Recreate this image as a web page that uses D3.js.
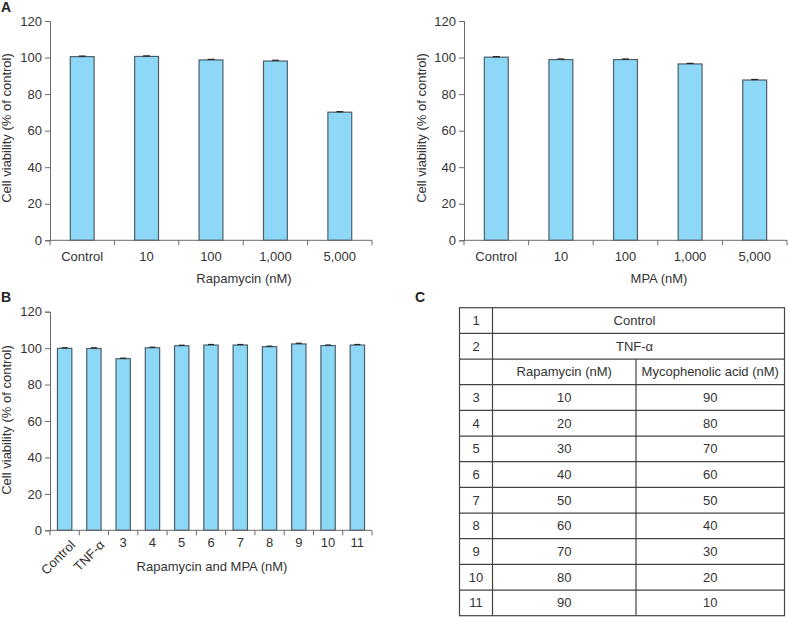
<!DOCTYPE html>
<html><head><meta charset="utf-8">
<script src="https://cdn.jsdelivr.net/npm/d3@7"></script>
<style>
body{margin:0;background:#fff;}
svg{display:block;font-family:"Liberation Sans",Arial,sans-serif;}
</style></head>
<body><svg id="c" width="788" height="617"></svg>
<script>
// ---- data ----
const catsA = ["Control","10","100","1,000","5,000"];
const rapaValues = [100.5, 100.6, 98.7, 98.1, 70.1];
const rapaErrors = [0.3, 0.3, 0.3, 0.4, 0.3];
const mpaValues = [100.2, 98.9, 98.9, 96.5, 87.7];
const mpaErrors = [0.3, 0.3, 0.3, 0.3, 0.3];
const catsB = ["Control","TNF-α","3","4","5","6","7","8","9","10","11"];
const comboValues = [99.9, 99.8, 94.2, 100.2, 101.3, 101.7, 101.7, 100.8, 102.3, 101.4, 101.7];
const comboErrors = [0.3, 0.4, 0.3, 0.3, 0.3, 0.3, 0.3, 0.3, 0.4, 0.3, 0.3];
const yTicks = [0,20,40,60,80,100,120];
const tableIds = ["3","4","5","6","7","8","9","10","11"];
const tableRapa = [10,20,30,40,50,60,70,80,90];
const tableMpa = [90,80,70,60,50,40,30,20,10];

const svg = d3.select("#c");
const FILL = "#8dd8f6", STROKE = "#4d5f6b", AXIS = "#6a6a6a", TXT = "#333";

function barChart(o){
  const g = svg.append("g");
  const x = d3.scaleBand().domain(o.cats).range([o.x0, o.x1]).padding(0);
  const y = d3.scaleLinear().domain([0,120]).range([o.y0, o.yTop]);
  const bw = x.step() * o.ratio;
  // y axis
  const ya = g.append("g").attr("transform",`translate(${o.x0},0)`)
    .call(d3.axisLeft(y).tickValues(yTicks).tickSize(5).tickPadding(3));
  ya.select(".domain").attr("stroke",AXIS);
  ya.selectAll(".tick line").attr("stroke",AXIS);
  ya.selectAll("text").attr("font-size",13).attr("fill",TXT).attr("font-family","Liberation Sans, Arial, sans-serif");
  // bars
  g.selectAll("rect.bar").data(o.values).join("rect")
    .attr("x",(d,i)=>x(o.cats[i]) + x.bandwidth()/2 - bw/2)
    .attr("y",d=>y(d)).attr("width",bw).attr("height",d=>o.y0 - y(d))
    .attr("fill",FILL).attr("stroke",STROKE).attr("stroke-width",1.2);
  // error bars
  g.selectAll("g.err").data(o.values).join("g").each(function(d,i){
    const cx = x(o.cats[i]) + x.bandwidth()/2;
    const e = o.errors[i];
    const s = d3.select(this);
    s.append("line").attr("x1",cx).attr("x2",cx).attr("y1",y(d)).attr("y2",y(d+e)).attr("stroke","#222").attr("stroke-width",1);
    s.append("line").attr("x1",cx-o.cap).attr("x2",cx+o.cap).attr("y1",y(d+e)).attr("y2",y(d+e)).attr("stroke","#222").attr("stroke-width",1.2);
  });
  // x axis line and boundary ticks
  g.append("line").attr("x1",o.x0).attr("x2",o.x1).attr("y1",o.y0).attr("y2",o.y0).attr("stroke",AXIS);
  const bounds = o.cats.map(c=>x(c)).concat([o.x1]);
  g.selectAll("line.xt").data(bounds).join("line")
    .attr("x1",d=>d).attr("x2",d=>d).attr("y1",o.y0).attr("y2",o.y0+5).attr("stroke",AXIS);
  // tick labels
  o.cats.forEach((c,i)=>{
    const cx = x(c) + x.bandwidth()/2;
    if (o.rotate && o.rotate.includes(c)){
      g.append("text").attr("transform",`translate(${cx+5},${o.y0+9}) rotate(-45)`)
        .attr("text-anchor","end").attr("dy","0.7em").attr("font-size",13).attr("fill",TXT).text(c);
    } else {
      g.append("text").attr("x",cx).attr("y",o.labelY).attr("text-anchor","middle")
        .attr("font-size",13).attr("fill",TXT).text(c);
    }
  });
  // titles
  g.append("text").attr("x",o.titleX).attr("y",o.titleY).attr("text-anchor","middle")
    .attr("font-size",13).attr("fill",TXT).text(o.xTitle);
  g.append("text").attr("transform",`translate(${o.yTitleX},${o.yTitleY}) rotate(-90)`)
    .attr("text-anchor","middle").attr("font-size",13).attr("fill",TXT).text("Cell viability (% of control)");
}

barChart({cats:catsA, values:rapaValues, errors:rapaErrors, x0:50, x1:372, y0:240.3, yTop:21, ratio:0.37, cap:3.5,
  labelY:261, xTitle:"Rapamycin (nM)", titleX:244, titleY:283, yTitleX:11, yTitleY:128});
barChart({cats:catsA, values:mpaValues, errors:mpaErrors, x0:464, x1:787, y0:240.3, yTop:21, ratio:0.37, cap:3.5,
  labelY:261, xTitle:"MPA (nM)", titleX:659, titleY:283, yTitleX:426, yTitleY:128});
barChart({cats:catsB, values:comboValues, errors:comboErrors, x0:50, x1:372, y0:530.3, yTop:311.7, ratio:0.49, cap:3,
  labelY:547, rotate:["Control","TNF-α"], xTitle:"Rapamycin and MPA (nM)", titleX:212, titleY:571, yTitleX:11, yTitleY:420});

// panel letters
[["A",1,12],["B",1,302],["C",415,302]].forEach(([t,x,y])=>{
  svg.append("text").attr("x",x).attr("y",y).attr("font-size",14).attr("font-weight","bold").attr("fill","#222").text(t);
});

// table C
const tx = [459.5, 492.5, 636, 784.5];
const rowsN = 3 + tableIds.length;
const ty = d3.scaleLinear().domain([0, rowsN]).range([307.7, 615.7]);
const tg = svg.append("g");
const LINE = "#444";
tg.append("rect").attr("x",tx[0]).attr("y",ty(0)).attr("width",tx[3]-tx[0]).attr("height",ty(rowsN)-ty(0))
  .attr("fill","none").attr("stroke",LINE).attr("stroke-width",1.2);
for (let r=1; r<rowsN; r++){
  tg.append("line").attr("x1",tx[0]).attr("x2",tx[3]).attr("y1",ty(r)).attr("y2",ty(r)).attr("stroke",LINE).attr("stroke-width",1.2);
}
tg.append("line").attr("x1",tx[1]).attr("x2",tx[1]).attr("y1",ty(0)).attr("y2",ty(rowsN)).attr("stroke",LINE).attr("stroke-width",1.2);
tg.append("line").attr("x1",tx[2]).attr("x2",tx[2]).attr("y1",ty(2)).attr("y2",ty(rowsN)).attr("stroke",LINE).attr("stroke-width",1.2);
function cell(t, xa, xb, r){
  tg.append("text").attr("x",(xa+xb)/2).attr("y",(ty(r)+ty(r+1))/2).attr("dy","0.35em")
    .attr("text-anchor","middle").attr("font-size",13).attr("fill",TXT).text(t);
}
cell("1", tx[0], tx[1], 0); cell("Control", tx[1], tx[3]-8, 0);
cell("2", tx[0], tx[1], 1); cell("TNF-α", tx[1], tx[3]-8, 1);
cell("Rapamycin (nM)", tx[1], tx[2], 2); cell("Mycophenolic acid (nM)", tx[2], tx[3], 2);
tableIds.forEach((id,i)=>{
  cell(id, tx[0], tx[1], 3+i);
  cell(String(tableRapa[i]), tx[1], tx[2], 3+i);
  cell(String(tableMpa[i]), tx[2], tx[3], 3+i);
});
</script></body></html>
